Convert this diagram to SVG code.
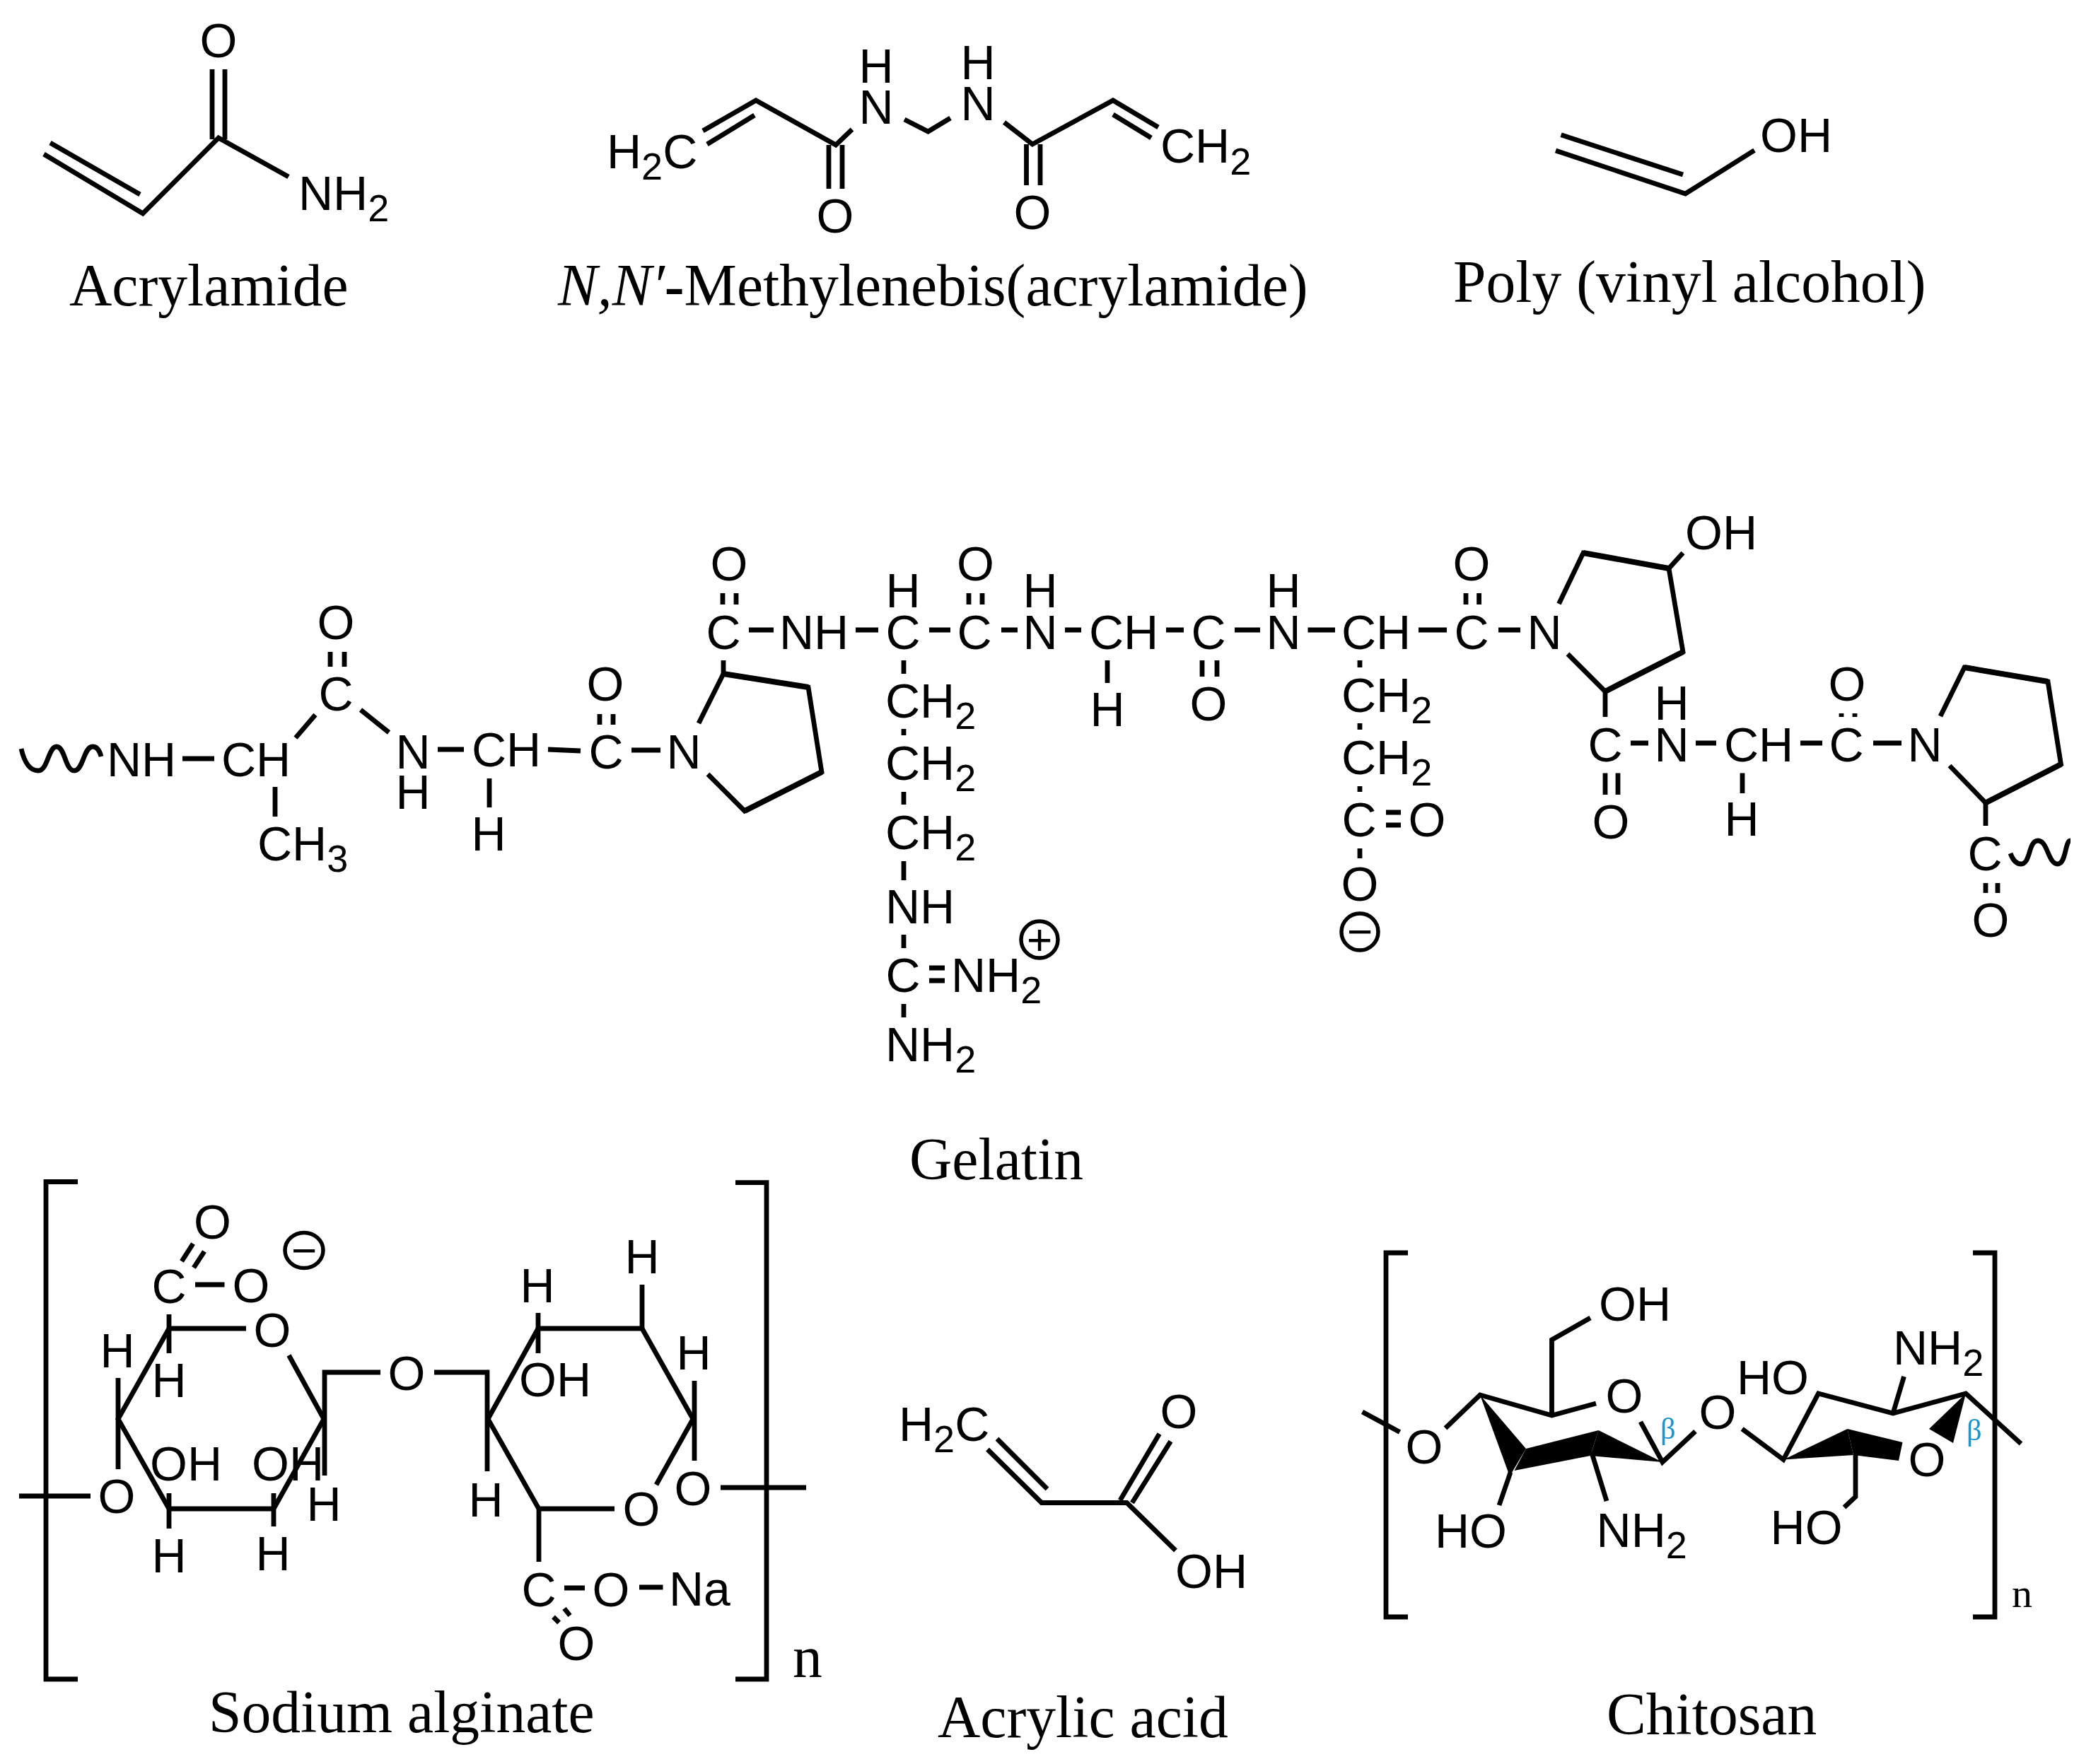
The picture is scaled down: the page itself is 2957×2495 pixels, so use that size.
<svg xmlns="http://www.w3.org/2000/svg" width="2957" height="2495" viewBox="0 0 2957 2495">
<style>
.b{fill:none;stroke:#000;stroke-width:6.8;stroke-linejoin:miter}
.t{fill:none;stroke:#000;stroke-width:8}
.w{fill:#000;stroke:none}
.a{font-family:"Liberation Sans",Arial,sans-serif;font-size:68px;fill:#000}
.m{text-anchor:middle}
.s{font-size:54px}
.c{font-family:"Liberation Serif","Times New Roman",serif;font-size:83.6px;fill:#000}
.k{fill:none;stroke:#000;stroke-width:5.5}
.q{font-family:"Liberation Sans",Arial,sans-serif;font-size:62px;fill:#000;text-anchor:middle}
.be{font-family:"Liberation Serif","Times New Roman",serif;font-size:42px;fill:#1a94c8}
.n{font-size:58px}
</style>
<rect width="2957" height="2495" fill="#fff"/>

<g id="acrylamide">
<g class="b">
<path d="M300 98V197M318 98V197"/>
<path d="M62 218L202 302L309 195L408 250"/>
<path d="M71 202L198 275"/>
</g>
<text class="a m" x="309" y="81">O</text>
<text class="a" x="422" y="297">NH<tspan class="s" dy="16">2</tspan></text>
<text class="c" x="98" y="432">Acrylamide</text>
</g>

<g id="mba">
<g class="b">
<path d="M994 185L1069 142L1182 205L1205 183"/>
<path d="M1000 204L1067 163"/>
<path d="M1172 205V267M1191 205V267"/>
<path d="M1279 169L1312.5 186L1344 167"/>
<path d="M1420 173L1460 204L1574 142L1638 180"/>
<path d="M1574 162L1628 195"/>
<path d="M1451.5 204V262M1471 204V262"/>
</g>
<text class="a" x="858" y="238">H<tspan class="s" dy="16">2</tspan><tspan dy="-16">C</tspan></text>
<text class="a m" x="1239" y="175">N</text>
<text class="a m" x="1239" y="117">H</text>
<text class="a m" x="1383" y="170">N</text>
<text class="a m" x="1383" y="112">H</text>
<text class="a m" x="1181" y="329">O</text>
<text class="a m" x="1460" y="324">O</text>
<text class="a" x="1641" y="230">CH<tspan class="s" dy="17">2</tspan></text>
<text class="c" x="789" y="432"><tspan font-style="italic">N,N′</tspan><tspan font-weight="bold">-</tspan>Methylenebis(acrylamide)</text>
</g>

<g id="pva">
<g class="b">
<path d="M2207.6 190.7L2380 247"/>
<path d="M2200 213L2383.4 274L2481 212.7"/>
</g>
<text class="a" x="2489" y="215">OH</text>
<text class="c" x="2055" y="427">Poly (vinyl alcohol)</text>
</g>

<g id="gelatin">
<g class="b">
<path d="M30 1059C36 1085 46 1090 54 1090C68 1090 68 1056 80 1056C92 1056 92 1090 105 1090C118 1090 118 1056 131 1056C137 1056 141 1062 143 1070"/>
<path d="M258 1073H303M389 1113V1155M418 1043.6L446 1011M510 1004L550 1036"/>
<path d="M467 922V943M487 922V943"/>
<path d="M619 1060H656M692 1101V1142M775 1060L821 1062M893 1061H934"/>
<path d="M848 1010V1025M867 1010V1025"/>
<path d="M988 1023L1023 953L1143 972L1162 1092L1053 1147L1001 1095"/>
<path d="M1023 934V953"/>
<path d="M1022 839V855M1041 839V855"/>
<path d="M1059 891H1094M1210 891H1242M1314 891H1344M1416 891H1439M1506 891H1529M1649 891H1674M1746 891H1782M1849.5 891H1888"/>
<path d="M1370 839V855M1389 839V855M1700 934V957M1721 934V957"/>
<path d="M1566 934V966"/>
<path d="M1278 934V953M1278 1031V1040M1278 1120V1138M1278 1218V1245M1278 1322V1341M1278 1420V1439"/>
<path d="M1314 1369H1336M1314 1387H1336"/>
<path d="M1923 934V944M1923 1023V1032M1923 1112V1120M1923 1200V1214"/>
<path d="M1960 1149H1981M1960 1167H1981"/>
<path d="M2006 891H2046M2119 891H2150"/>
<path d="M2073 839V855M2091.6 839V855"/>
<path d="M2204.5 854L2239 782L2360 804L2380 922L2270 978L2217 925"/>
<path d="M2360 804L2380 782M2270 978V1014"/>
<path d="M2270 1093.5V1124M2288 1093.5V1124"/>
<path d="M2306 1051H2331M2398 1051H2427M2464 1093.5V1122M2546 1051H2577M2649 1051H2689"/>
<path d="M2604 1009V1014M2623 1009V1014"/>
<path d="M2744 1013L2778 944L2896 964L2914.5 1081L2808 1135.5L2757 1083"/>
<path d="M2808 1135V1168M2808 1249V1263M2825 1249V1263"/>
<path d="M2843 1207C2847 1218 2852 1222 2858 1222C2872 1222 2868 1189 2882 1189C2896 1189 2896 1222 2910 1222C2922 1222 2920 1189 2928 1189"/>
</g>
<g class="t">
<path d="M1023 953L1143 972M1162 1092L1053 1147M2239 782L2360 804M2380 922L2270 978M2778 944L2896 964M2914.5 1081L2808 1135.5"/>
</g>
<text class="a" x="151" y="1098">NH</text>
<text class="a" x="313" y="1098">CH</text>
<text class="a" x="364" y="1217">CH<tspan class="s" dy="16">3</tspan></text>
<text class="a m" x="475" y="1005">C</text>
<text class="a m" x="475" y="904">O</text>
<text class="a m" x="584" y="1087">N</text>
<text class="a m" x="584" y="1144">H</text>
<text class="a" x="667" y="1084">CH</text>
<text class="a m" x="691" y="1203">H</text>
<text class="a m" x="857" y="1087">C</text>
<text class="a m" x="856" y="991">O</text>
<text class="a m" x="967" y="1087">N</text>
<text class="a m" x="1023" y="918">C</text>
<text class="a m" x="1031" y="821">O</text>
<text class="a" x="1102" y="918">NH</text>
<text class="a m" x="1277" y="918">C</text>
<text class="a m" x="1277" y="859">H</text>
<text class="a m" x="1378" y="918">C</text>
<text class="a m" x="1379.5" y="821">O</text>
<text class="a m" x="1471" y="918">N</text>
<text class="a m" x="1471" y="859">H</text>
<text class="a" x="1540" y="918">CH</text>
<text class="a m" x="1566" y="1027">H</text>
<text class="a m" x="1709" y="918">C</text>
<text class="a m" x="1709" y="1019">O</text>
<text class="a m" x="1815" y="918">N</text>
<text class="a m" x="1815" y="859">H</text>
<text class="a" x="1897" y="918">CH</text>
<text class="a" x="1252" y="1015">CH<tspan class="s" dy="16">2</tspan></text>
<text class="a" x="1252" y="1103">CH<tspan class="s" dy="16">2</tspan></text>
<text class="a" x="1252" y="1201">CH<tspan class="s" dy="16">2</tspan></text>
<text class="a" x="1252" y="1306">NH</text>
<text class="a m" x="1277" y="1403">C</text>
<text class="a" x="1345" y="1403">NH<tspan class="s" dy="16">2</tspan></text>
<text class="a" x="1252" y="1501">NH<tspan class="s" dy="16">2</tspan></text>
<circle class="k" cx="1470" cy="1329" r="26"/>
<text class="q" x="1470" y="1350">+</text>
<text class="a" x="1897" y="1006.5">CH<tspan class="s" dy="16">2</tspan></text>
<text class="a" x="1897" y="1095">CH<tspan class="s" dy="16">2</tspan></text>
<text class="a m" x="1922" y="1183">C</text>
<text class="a m" x="2018" y="1183">O</text>
<text class="a m" x="1923" y="1274">O</text>
<circle class="k" cx="1923" cy="1318" r="26"/>
<text class="q" x="1923" y="1339">−</text>
<text class="a m" x="2081" y="918">C</text>
<text class="a m" x="2081" y="821">O</text>
<text class="a m" x="2184" y="918">N</text>
<text class="a" x="2383" y="777">OH</text>
<text class="a m" x="2270" y="1077">C</text>
<text class="a m" x="2278" y="1186">O</text>
<text class="a m" x="2364" y="1077">N</text>
<text class="a m" x="2364" y="1018">H</text>
<text class="a" x="2438" y="1077">CH</text>
<text class="a m" x="2463" y="1182">H</text>
<text class="a m" x="2611" y="1077">C</text>
<text class="a m" x="2612" y="991">O</text>
<text class="a m" x="2722" y="1077">N</text>
<text class="a m" x="2807" y="1231">C</text>
<text class="a m" x="2815" y="1325">O</text>
<text class="c" x="1286" y="1668">Gelatin</text>
</g>

<g id="sodium-alginate">
<g class="b">
<path d="M110 1671.5H65V2375H110"/>
<path d="M27 2116H128"/>
<path d="M167 1949V2078M239 1859V1914M239 2112V2162M387 2112V2159"/>
<path d="M348 1879H239L167 2007L239 2134H387L458 2007L408.5 1917"/>
<path d="M257 1784L273 1759M274 1793L289 1770M276 1817H317.5"/>
<path d="M538 1941H459V2087"/>
<path d="M614 1941H689V2081"/>
<path d="M761 1857V1914"/>
<path d="M928 2100L980 2007L908 1879H761L690 2007L762 2134H869"/>
<path d="M908 1817V1879M982 1953V2066M762 2134V2209"/>
<path d="M798 2246H827M904 2245H937.5"/>
<path d="M782.5 2287L790.6 2295M798 2275L806 2285"/>
<path d="M1019 2104H1140"/>
<path d="M1040 1672.6H1084V2375H1040"/>
</g>
<text class="a m" x="165" y="2140">O</text>
<text class="a m" x="166" y="1934">H</text>
<text class="a m" x="239" y="1843">C</text>
<text class="a m" x="300.5" y="1752">O</text>
<text class="a m" x="355" y="1842">O</text>
<ellipse class="k" cx="430" cy="1768.5" rx="27" ry="25"/>
<text class="q" x="430" y="1790">−</text>
<text class="a m" x="385" y="1905">O</text>
<text class="a m" x="575" y="1966">O</text>
<text class="a m" x="239" y="2224">H</text>
<text class="a m" x="386" y="2221">H</text>
<text class="a m" x="239" y="1976">H</text>
<text class="a" x="212" y="2094">OH</text>
<text class="a" x="356" y="2094">OH</text>
<text class="a m" x="458" y="2151">H</text>
<text class="a m" x="907" y="2158">O</text>
<text class="a m" x="687" y="2144.5">H</text>
<text class="a m" x="760" y="1842">H</text>
<text class="a" x="734" y="1975">OH</text>
<text class="a m" x="908" y="1801">H</text>
<text class="a m" x="981" y="1937">H</text>
<text class="a m" x="980" y="2129">O</text>
<text class="a m" x="762" y="2272">C</text>
<text class="a m" x="864" y="2272">O</text>
<text class="a" x="946" y="2271">Na</text>
<text class="a m" x="815" y="2348">O</text>
<text class="c" x="1121" y="2372">n</text>
<text class="c" x="295" y="2450">Sodium alginate</text>
</g>

<g id="acrylic-acid">
<g class="b">
<path d="M1396.5 2050L1473 2125.5H1593.5L1662.5 2193"/>
<path d="M1410 2035L1481 2106"/>
<path d="M1584 2122L1639.5 2028M1601 2125.5L1655.5 2038.6"/>
</g>
<text class="a" x="1271" y="2037.6">H<tspan class="s" dy="16">2</tspan><tspan dy="-16">C</tspan></text>
<text class="a m" x="1667" y="2020">O</text>
<text class="a" x="1662" y="2246">OH</text>
<text class="c" x="1326" y="2456.5">Acrylic acid</text>
</g>

<g id="chitosan">
<g class="b">
<path d="M1991 1772H1960V2287H1991"/>
<path d="M2790 1772H2821V2287H2790"/>
<path d="M1926.6 1997L1979.5 2025.5"/>
<path d="M2044 2020L2093 1973L2194.5 2002L2257 1985"/>
<path d="M2194.5 2002V1895L2249 1864"/>
<path d="M2136 2082.5L2120 2129M2250.7 2054L2272 2123"/>
<path d="M2320 2011L2351 2068L2397.5 2024.6"/>
<path d="M2463.6 2021L2522 2064.5L2571.5 1971L2677 1999L2780 1971L2858 2042"/>
<path d="M2677 1999L2692.5 1947"/>
<path d="M2624 2058V2117L2608 2132"/>
</g>
<polygon class="w" points="2093,1973 2158,2049 2135,2088"/>
<polygon class="w" points="2158,2049 2260.6,2023 2249,2059 2141.5,2080"/>
<polygon class="w" points="2260.6,2023 2351,2068 2249,2059"/>
<polygon class="w" points="2780,1971 2728,2021 2762,2041"/>
<polygon class="w" points="2522,2064.5 2612.5,2021 2621,2058"/>
<polygon class="w" points="2612.5,2021 2690.5,2040 2685,2066 2621,2058"/>
<text class="a m" x="2014" y="2070">O</text>
<text class="a" x="2261" y="1867.5">OH</text>
<text class="a m" x="2297" y="1998">O</text>
<text class="a" x="2029" y="2189">HO</text>
<text class="a" x="2257.6" y="2188">NH<tspan class="s" dy="16">2</tspan></text>
<text class="be" x="2348" y="2035">β</text>
<text class="a m" x="2429" y="2021">O</text>
<text class="a" x="2456" y="1972">HO</text>
<text class="a" x="2677" y="1929.5">NH<tspan class="s" dy="16">2</tspan></text>
<text class="be" x="2781" y="2037">β</text>
<text class="a m" x="2725" y="2088">O</text>
<text class="a" x="2503.6" y="2184">HO</text>
<text class="c n" x="2845" y="2272.6">n</text>
<text class="c" x="2272" y="2453">Chitosan</text>
</g>
</svg>
